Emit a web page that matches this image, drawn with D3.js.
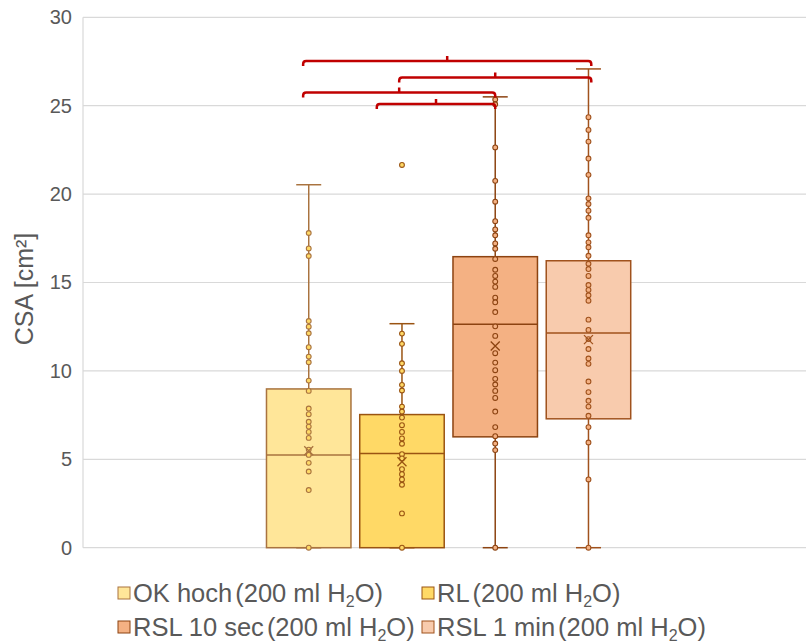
<!DOCTYPE html>
<html>
<head>
<meta charset="utf-8">
<script src="https://d3js.org/d3.v7.min.js"></script>
<style>
  body { margin: 0; background: #fff; }
  text { font-family: "Liberation Sans", Arial, sans-serif; fill: #595959; }
</style>
</head>
<body>
<svg width="806" height="644"></svg>
<script>
// series names and colours
var names = ["OK hoch", "RL", "RSL 10 sec", "RSL 1 min"];
var fills = ["#ffe699", "#ffd966", "#f4b183", "#f8cbad"];
var strokes = ["#a9733f", "#9a5412", "#8c4311", "#a0521d"];
var dotFills = ["#ffd966", "#ffd966", "#f4b183", "#f4b183"];

// box statistics
var mins    = [0, 0, 0, 0];
var q1s     = [0, 0, 6.27, 7.29];
var medians = [5.25, 5.33, 12.64, 12.15];
var q3s     = [8.98, 7.53, 16.46, 16.23];
var maxs    = [20.53, 12.67, 25.5, 27.08];
var means   = [5.48, 4.86, 11.41, 11.77];

// inner points per series
var okHoch = [17.8, 16.93, 16.5, 12.82, 12.5, 12.13, 11.34, 10.81, 10.49, 9.45, 8.87, 7.87, 7.55, 7.12, 6.85, 6.55, 6.21, 5.55, 5.25, 4.8, 4.31, 3.26, 0];
var rl = [21.65, 12.11, 11.53, 10.43, 10.0, 9.21, 8.89, 7.98, 7.7, 7.36, 6.93, 6.55, 6.18, 5.88, 5.29, 5.05, 4.44, 4.16, 3.86, 3.56, 1.94, 0];
var rsl10 = [25.35, 25.08, 22.64, 20.75, 19.57, 18.47, 18.0, 17.67, 17.21, 16.91, 16.33, 15.72, 15.37, 15.05, 14.75, 14.14, 13.88, 13.33, 12.52, 11.98, 11.0, 10.47, 10.04, 9.55, 9.23, 8.87, 8.47, 7.7, 6.82, 6.31, 5.89, 5.52, 0];
var rsl1 = [24.35, 23.63, 22.97, 22.01, 21.09, 19.76, 19.44, 19.06, 18.66, 17.67, 17.27, 16.99, 16.51, 16.06, 15.76, 15.37, 14.86, 14.58, 14.28, 13.97, 12.9, 12.32, 11.8, 11.24, 10.7, 10.4, 9.4, 8.8, 8.31, 7.98, 7.46, 6.82, 5.95, 3.86, 0];
var points = [okHoch, rl, rsl10, rsl1];

// significance brackets: from/to in series index, level in cm²
var bracketFrom  = [-0.06, 0.97, -0.06, 0.73];
var bracketTo    = [3.03, 3.03, 2.0, 2.0];
var bracketLevel = [27.53, 26.6, 25.74, 25.1];

var yTicks = [0, 5, 10, 15, 20, 25, 30];
var legendSuffix = "(200 ml H";

var svg = d3.select("svg");
var plotLeft = 83, plotRight = 806, plotTop = 17.3, plotBottom = 547.7;

var y = d3.scaleLinear().domain([0, 30]).range([plotBottom, plotTop]);
var x = d3.scaleBand().domain(names).range([262.1, 635.1])
    .paddingInner(0.094).paddingOuter(0.047);
var bw = x.bandwidth(), step = x.step();
function cx(i) { return x(names[0]) + bw / 2 + i * step; }

// gridlines
svg.append("g").selectAll("line").data(yTicks).enter().append("line")
    .attr("x1", plotLeft).attr("x2", plotRight)
    .attr("y1", function (d) { return y(d); }).attr("y2", function (d) { return y(d); })
    .attr("stroke", "#d9d9d9").attr("stroke-width", 1.2);
svg.append("line").attr("x1", plotLeft).attr("x2", plotLeft).attr("y1", y(30)).attr("y2", y(0))
    .attr("stroke", "#d9d9d9").attr("stroke-width", 1.2);

// y axis labels
var yAxis = svg.append("g").attr("transform", "translate(72,0)")
    .call(d3.axisLeft(y).tickValues(yTicks).tickSize(0).tickPadding(0));
yAxis.select(".domain").remove();
yAxis.selectAll("text").style("font-size", "20px").attr("fill", "#595959")
    .style("font-family", "'Liberation Sans', Arial, sans-serif");

svg.append("text").attr("transform", "translate(33," + 289 + ") rotate(-90)")
    .attr("text-anchor", "middle").style("font-size", "25px").text("CSA [cm²]");

// boxes
names.forEach(function (n, i) {
    var g = svg.append("g");
    var c = x(n) + bw / 2;
    var st = strokes[i];
    // whiskers
    g.append("line").attr("x1", c).attr("x2", c).attr("y1", y(q3s[i])).attr("y2", y(maxs[i]))
        .attr("stroke", st).attr("stroke-width", 1.5);
    g.append("line").attr("x1", c).attr("x2", c).attr("y1", y(q1s[i])).attr("y2", y(mins[i]))
        .attr("stroke", st).attr("stroke-width", 1.5);
    [maxs[i], mins[i]].forEach(function (v) {
        g.append("line").attr("x1", c - 12.5).attr("x2", c + 12.5).attr("y1", y(v)).attr("y2", y(v))
            .attr("stroke", st).attr("stroke-width", 1.5);
    });
    g.append("rect").attr("x", x(n)).attr("width", bw)
        .attr("y", y(q3s[i])).attr("height", y(q1s[i]) - y(q3s[i]))
        .attr("fill", fills[i]).attr("stroke", st).attr("stroke-width", 1.5);
    g.append("line").attr("x1", x(n)).attr("x2", x(n) + bw)
        .attr("y1", y(medians[i])).attr("y2", y(medians[i]))
        .attr("stroke", st).attr("stroke-width", 1.5);
    // points
    g.selectAll("circle").data(points[i]).enter().append("circle")
        .attr("cx", c).attr("cy", function (d) { return y(d); }).attr("r", 2.4)
        .attr("fill", dotFills[i]).attr("stroke", st).attr("stroke-width", 1.1);
    // mean
    var my = y(means[i]), s = 4.5;
    g.append("path").attr("d", "M" + (c - s) + "," + (my - s) + "L" + (c + s) + "," + (my + s) +
        "M" + (c - s) + "," + (my + s) + "L" + (c + s) + "," + (my - s))
        .attr("stroke", st).attr("stroke-width", 1.3).attr("fill", "none");
});

// significance brackets
bracketLevel.forEach(function (lv, k) {
    var x1 = cx(bracketFrom[k]), x2 = cx(bracketTo[k]), yy = y(lv), m = (x1 + x2) / 2;
    var r = 3, h = 5;
    var p = d3.path();
    p.moveTo(x1, yy + h);
    p.lineTo(x1, yy + r);
    p.quadraticCurveTo(x1, yy, x1 + r, yy);
    p.lineTo(x2 - r, yy);
    p.quadraticCurveTo(x2, yy, x2, yy + r);
    p.lineTo(x2, yy + h);
    p.moveTo(m, yy);
    p.lineTo(m, yy - h);
    svg.append("path").attr("d", p.toString()).attr("fill", "none")
        .attr("stroke", "#c00000").attr("stroke-width", 2.5);
});

// legend, two columns
var legendCols = [118, 422];
names.forEach(function (n, i) {
    var lx = legendCols[i % 2], ly = 602 + Math.floor(i / 2) * 34;
    svg.append("rect").attr("x", lx).attr("y", ly - 15).attr("width", 12).attr("height", 12)
        .attr("fill", fills[i]).attr("stroke", strokes[i]).attr("stroke-width", 1);
    var t = svg.append("text").attr("x", lx + 15).attr("y", ly).style("font-size", "25.5px");
    t.append("tspan").text(n);
    t.append("tspan").attr("dx", 3).text(legendSuffix);
    t.append("tspan").attr("dy", 5).style("font-size", "16px").text("2");
    t.append("tspan").attr("dy", -5).text("O)");
});
</script>
</body>
</html>
